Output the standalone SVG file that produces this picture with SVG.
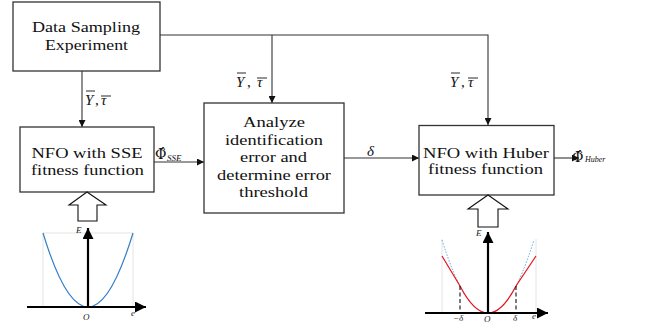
<svg xmlns="http://www.w3.org/2000/svg" width="654" height="327" viewBox="0 0 654 327">
  <defs>
    <marker id="arr" viewBox="0 0 10 10" refX="10" refY="5" markerWidth="8" markerHeight="7" markerUnits="userSpaceOnUse" orient="auto">
      <path d="M0,0 L10,5 L0,10 z" fill="#111"/>
    </marker>
    <marker id="axarr" viewBox="0 0 10 10" refX="10" refY="5" markerWidth="12" markerHeight="11" markerUnits="userSpaceOnUse" orient="auto">
      <path d="M0,0 L10,5 L0,10 z" fill="#000"/>
    </marker>
    <style>
      .box { fill: #fff; stroke: #333; stroke-width: 1.3; }
      .wire { fill: none; stroke: #333; stroke-width: 1.1; }
      .bar { stroke: #111; stroke-width: 0.9; }
      .hollow { fill: #fff; stroke: #111; stroke-width: 1.1; stroke-linejoin: miter; }
      .axis { stroke: #000; stroke-width: 2.2; fill: none; }
      .guide { stroke: #ddd; stroke-width: 0.8; fill: none; }
    </style>
  </defs>

  <!-- connectors -->
  <g id="connectors">
    <path class="wire" d="M160,35 H488 V125" marker-end="url(#arr)"/>
    <path class="wire" d="M272,35 V103" marker-end="url(#arr)"/>
    <path class="wire" d="M82,71 V127" marker-end="url(#arr)"/>
    <path class="wire" d="M154,162 H204" marker-end="url(#arr)"/>
    <path class="wire" d="M344,158 H419" marker-end="url(#arr)"/>
    <path class="wire" d="M554,158 H579" marker-end="url(#arr)"/>
  </g>

  <!-- connector labels -->
  <g id="labels" font-family="Liberation Serif, serif" fill="#111">
    <g id="label-left" font-size="15">
      <text x="85" y="105" font-style="italic">Y</text>
      <line class="bar" x1="86" y1="91" x2="95" y2="91"/>
      <text x="95" y="105">,</text>
      <text x="101" y="105" font-style="italic">τ</text>
      <line class="bar" x1="101" y1="96" x2="111" y2="96"/>
    </g>
    <g id="label-mid" font-size="15">
      <text x="236" y="87" font-style="italic">Y</text>
      <line class="bar" x1="237" y1="73" x2="246" y2="73"/>
      <text x="247" y="87">,</text>
      <text x="257" y="87" font-style="italic">τ</text>
      <line class="bar" x1="257" y1="78" x2="267" y2="78"/>
    </g>
    <g id="label-right" font-size="15">
      <text x="450" y="87" font-style="italic">Y</text>
      <line class="bar" x1="451" y1="73" x2="460" y2="73"/>
      <text x="461" y="87">,</text>
      <text x="468" y="87" font-style="italic">τ</text>
      <line class="bar" x1="468" y1="78" x2="478" y2="78"/>
    </g>
    <g id="label-phi-sse">
      <text x="155" y="159" font-size="14" font-family="DejaVu Serif, serif">Φ̂</text>
      <text x="167" y="161" font-size="9" font-style="italic">SSE</text>
    </g>
    <text x="367" y="156" font-size="15" font-style="italic">δ</text>
    <g id="label-phi-huber">
      <text x="572" y="162" font-size="14" font-family="DejaVu Serif, serif">Φ̂</text>
      <text x="585" y="162" font-size="8" font-style="italic">Huber</text>
    </g>
  </g>

  <!-- nodes -->
  <g font-family="Liberation Serif, serif" font-size="15" fill="#111" text-anchor="middle">
    <g id="node-sampling">
      <rect class="box" x="13" y="2" width="147" height="69"/>
      <text x="86" y="32" textLength="108" lengthAdjust="spacingAndGlyphs">Data Sampling</text>
      <text x="86.5" y="50" textLength="83" lengthAdjust="spacingAndGlyphs">Experiment</text>
    </g>

    <g id="node-sse">
      <rect class="box" x="20" y="127" width="134" height="65"/>
      <text x="87" y="158" textLength="111" lengthAdjust="spacingAndGlyphs">NFO with SSE</text>
      <text x="87.5" y="175" textLength="113" lengthAdjust="spacingAndGlyphs">fitness function</text>
    </g>

    <g id="node-analyze">
      <rect class="box" x="204" y="103" width="140" height="110"/>
      <text x="274" y="127" textLength="62" lengthAdjust="spacingAndGlyphs">Analyze</text>
      <text x="274" y="145" textLength="98" lengthAdjust="spacingAndGlyphs">identification</text>
      <text x="273.5" y="162" textLength="67" lengthAdjust="spacingAndGlyphs">error and</text>
      <text x="274" y="180" textLength="114" lengthAdjust="spacingAndGlyphs">determine error</text>
      <text x="273.5" y="197" textLength="69" lengthAdjust="spacingAndGlyphs">threshold</text>
    </g>

    <g id="node-huber">
      <rect class="box" x="419" y="125.5" width="135" height="69.5"/>
      <text x="486" y="157.5" textLength="126" lengthAdjust="spacingAndGlyphs">NFO with Huber</text>
      <text x="485.5" y="174" textLength="115" lengthAdjust="spacingAndGlyphs">fitness function</text>
    </g>
  </g>

  <!-- hollow input arrows -->
  <g id="input-sse">
    <polygon class="hollow" points="87,192 106,205 97,205 97,221 78,221 78,205 69,205"/>
  </g>
  <g id="input-huber">
    <polygon class="hollow" points="488,195 508,209 498,209 498,227 478,227 478,209 468,209"/>
  </g>

  <!-- squared-error plot -->
  <g id="plot-sse" font-family="Liberation Serif, serif" font-size="9" font-style="italic" fill="#222">
    <path class="guide" d="M43,233 V307 M133,233 V307 M43,233 H133"/>
    <path d="M43,233 Q65.5,307 88,307 Q110.5,307 133,233" fill="none" stroke="#2f7fc8" stroke-width="1.2"/>
    <line class="axis" x1="27" y1="307" x2="146" y2="307" marker-end="url(#axarr)"/>
    <line class="axis" x1="88" y1="307" x2="88" y2="228" marker-end="url(#axarr)"/>
    <text x="76" y="233">E</text>
    <text x="83" y="320">O</text>
    <text x="131" y="316">e</text>
  </g>

  <!-- Huber loss plot -->
  <g id="plot-huber" font-family="Liberation Serif, serif" font-size="9" font-style="italic" fill="#222">
    <path class="guide" d="M442,239 V313 M536,239 V313"/>
    <path d="M442,240 Q465,313 488,313 Q511,313 534,240" fill="none" stroke="#5aa7e0" stroke-width="1" stroke-dasharray="1.5,1.5"/>
    <path d="M442,256 L460,286 Q474,313 488,313 Q502,313 516,286 L536,256" fill="none" stroke="#e8131b" stroke-width="1.2"/>
    <path d="M460,286 V313 M516,286 V313" stroke="#111" stroke-width="1.1" stroke-dasharray="4,2.5" fill="none"/>
    <line class="axis" x1="425" y1="313" x2="548" y2="313" marker-end="url(#axarr)"/>
    <line class="axis" x1="488" y1="313" x2="488" y2="232" marker-end="url(#axarr)"/>
    <text x="476" y="236">E</text>
    <text x="453" y="321">−δ</text>
    <text x="484" y="322">O</text>
    <text x="513" y="321">δ</text>
    <text x="532" y="319">e</text>
  </g>
</svg>
